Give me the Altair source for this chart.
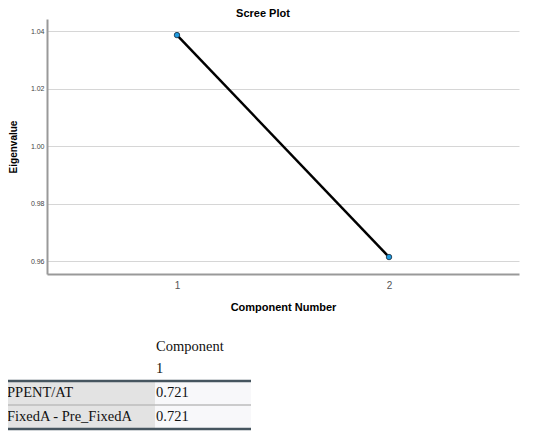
import altair as alt
import pandas as pd

# ---- data ----
components = [1, 2]
eigenvalues = [1.0386, 0.9614]
y_ticks = [0.96, 0.98, 1.00, 1.02, 1.04]
x_ticks = [1, 2]

table_header = "Component"
table_subheader = "1"
row_labels = ["PPENT/AT", "FixedA - Pre_FixedA"]
row_values = [0.721, 0.721]

df = pd.DataFrame({"comp": components, "eig": eigenvalues})

x_scale = alt.Scale(domain=[0.387, 2.613], nice=False, zero=False)
y_scale = alt.Scale(domain=[0.9555, 1.0442], nice=False, zero=False)

x_enc = alt.X("comp:Q", scale=x_scale,
              axis=alt.Axis(values=x_ticks, title="Component Number", format="d",
                            grid=False, ticks=False, labelFontSize=10, labelColor="#555",
                            labelPadding=6, domainColor="#999", domainWidth=2,
                            titleFontSize=11, titleFont="Liberation Sans",
                            titleFontWeight="bold", titlePadding=11, titleColor="#000",
                            labelFont="Liberation Sans"))
y_enc = alt.Y("eig:Q", scale=y_scale,
              axis=alt.Axis(values=y_ticks, title="Eigenvalue", format=".2f",
                            grid=True, gridColor="#d6d6d6", gridWidth=1,
                            ticks=False, labelFontSize=7, labelColor="#444",
                            labelPadding=3, domainColor="#999", domainWidth=2,
                            titleFontSize=10, titleFont="Liberation Sans",
                            titleFontWeight="bold", titleColor="#000",
                            titleX=-39, titleBaseline="top",
                            labelFont="Liberation Sans"))

line = alt.Chart(df).mark_line(color="#000", strokeWidth=2.5).encode(x=x_enc, y=y_enc)
pts = alt.Chart(df).mark_point(filled=True, size=30, fill="#1e9be0", stroke="#1a2a3a",
                               strokeWidth=0.8, opacity=1).encode(x="comp:Q", y="eig:Q")
scree = alt.layer(line, pts)

# ---- table (layout positions relative to plot origin) ----
tbl = pd.DataFrame({"label": row_labels, "value": [f"{v:.3f}" for v in row_values],
                    "row": [0, 1]})
row_scale = alt.Scale(domain=[0, 1], range=[374, 398])
hdr = pd.DataFrame({"t": [table_header, table_subheader], "r": [0, 1]})
hdr_scale = alt.Scale(domain=[0, 1], range=[328, 350])
FS = 14.5

lab_bg = alt.Chart(tbl).mark_rect(color="#e3e3e3", height=24).encode(
    y=alt.Y("row:Q", scale=row_scale, axis=None), x=alt.value(-40), x2=alt.value(108))
val_bg = alt.Chart(tbl).mark_rect(color="#f8f8fa", height=24).encode(
    y=alt.Y("row:Q", scale=row_scale, axis=None), x=alt.value(108), x2=alt.value(204))
lab_txt = alt.Chart(tbl).mark_text(align="left", baseline="middle", font="Liberation Serif",
                                   fontSize=FS, color="#111").encode(
    y=alt.Y("row:Q", scale=row_scale, axis=None), x=alt.value(-40), text="label:N")
val_txt = alt.Chart(tbl).mark_text(align="left", baseline="middle", font="Liberation Serif",
                                   fontSize=FS, color="#111").encode(
    y=alt.Y("row:Q", scale=row_scale, axis=None), x=alt.value(109), text="value:N")
hdr_txt = alt.Chart(hdr).mark_text(align="left", baseline="middle", font="Liberation Serif",
                                   fontSize=FS, color="#111").encode(
    y=alt.Y("r:Q", scale=hdr_scale, axis=None), x=alt.value(109), text="t:N")

sep = pd.DataFrame({"pos": [0.5]})
sep_rule = alt.Chart(sep).mark_rule(color="#bdbdbd", strokeWidth=1.5).encode(
    y=alt.Y("pos:Q", scale=row_scale, axis=None), x=alt.value(-40), x2=alt.value(204))
edges = pd.DataFrame({"pos": [-0.5, 1.5]})
edge_rule = alt.Chart(edges).mark_rule(color="#46555f", strokeWidth=2.5).encode(
    y=alt.Y("pos:Q", scale=row_scale, axis=None), x=alt.value(-40), x2=alt.value(204))

table = alt.layer(lab_bg, val_bg, sep_rule, edge_rule, lab_txt, val_txt, hdr_txt).resolve_scale(
    y="independent")

chart = alt.layer(scree, table).resolve_scale(x="independent", y="independent").properties(
    width=472, height=255,
    title=alt.TitleParams("Scree Plot", font="Liberation Sans", fontSize=11,
                          fontWeight="bold", color="#000", offset=0, anchor="middle",
                          dx=-20),
    autosize=alt.AutoSizeParams(type="none"),
    padding={"left": 39, "top": 11, "right": 21, "bottom": 158},
).configure_view(stroke=None)

chart.save("out.html", embed_options={"renderer": "svg", "actions": False})
